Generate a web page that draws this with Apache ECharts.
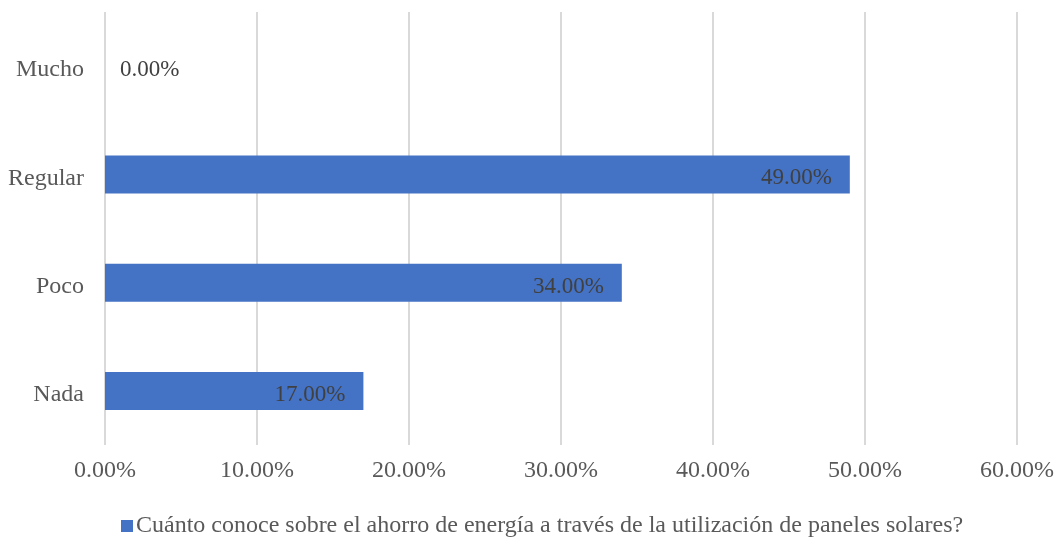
<!DOCTYPE html>
<html>
<head>
<meta charset="utf-8">
<script src="https://cdn.jsdelivr.net/npm/echarts@6/dist/echarts.min.js"></script>
<style>
  html, body { margin: 0; padding: 0; background: #fff; }
  #chart { width: 1057px; height: 538px; }
</style>
</head>
<body>
<div id="chart"></div>
<script>
// datos del gráfico
const categories = ['Nada', 'Poco', 'Regular', 'Mucho']
const values = [17, 34, 49, 0]
const seriesName = 'Cuánto conoce sobre el ahorro de energía a través de la utilización de paneles solares?'
const xTicks = { min: 0, max: 60, interval: 10 }

const font = 'Liberation Serif, Times New Roman, serif'

const chart = echarts.init(document.getElementById('chart'))

// barra en cero: etiqueta fuera, a la derecha
const barData = values.map(v => v === 0
  ? { value: v, label: { position: 'right', distance: 15 } }
  : v)

chart.setOption({
  animation: false,
  grid: { left: 105, right: 38, top: 12, bottom: 93 },
  legend: {
    data: [seriesName],
    bottom: -5,
    left: 116,
    icon: 'rect',
    itemWidth: 12,
    itemHeight: 12,
    itemGap: 5,
    textStyle: { fontFamily: font, fontSize: 24, color: '#595959', padding: [0, 0, 0, -2] }
  },
  xAxis: {
    type: 'value',
    min: xTicks.min,
    max: xTicks.max,
    interval: xTicks.interval,
    axisLine: { show: false },
    axisTick: { show: false },
    splitLine: { lineStyle: { color: '#d9d9d9', width: 2 } },
    axisLabel: {
      margin: 14,
      fontFamily: font,
      fontSize: 24,
      color: '#595959',
      formatter: v => v.toFixed(2) + '%'
    }
  },
  yAxis: {
    type: 'category',
    data: categories,
    axisLine: { show: false },
    axisTick: { show: false },
    axisLabel: {
      margin: 21,
      formatter: v => '{c|' + v + '}',
      rich: {
        c: { padding: [8, 0, 0, 0], fontFamily: font, fontSize: 24, color: '#595959' }
      }
    }
  },
  series: [
    {
      name: seriesName,
      type: 'bar',
      data: barData,
      barWidth: 38,
      itemStyle: { color: '#4472c4' },
      label: {
        show: true,
        position: 'insideRight',
        distance: 18,
        offset: [0, 4],
        fontFamily: font,
        fontSize: 23,
        color: '#404040',
        formatter: p => p.value.toFixed(2) + '%'
      }
    }
  ]
})
</script>
</body>
</html>
